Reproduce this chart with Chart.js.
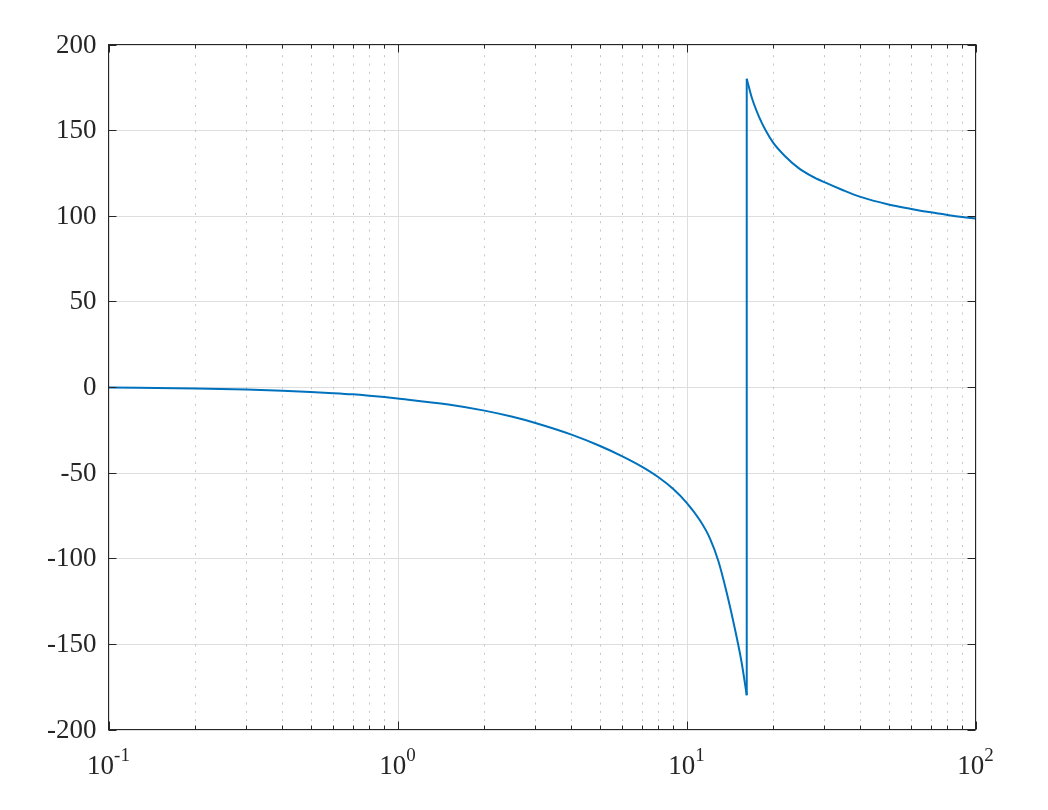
<!DOCTYPE html>
<html>
<head>
<meta charset="utf-8">
<script src="https://cdn.jsdelivr.net/npm/chart.js@4"></script>
<style>
  html, body { margin: 0; padding: 0; background: #fff; }
  canvas { display: block; }
</style>
</head>
<body>
<canvas id="phaseChart" width="1048" height="810"></canvas>
<script>
// --- data ---
// branch before the wrap (falls to -180)
const freqLow  = [0.1, 0.2, 0.3, 0.4, 0.5, 0.6, 0.7, 0.8, 0.9, 1, 1.5, 2, 2.5, 3, 4, 5, 6, 7, 8, 9, 10, 11.14, 12.06, 12.88, 13.77, 14.72, 15.52, 16.16];
const phaseLow = [-0.3, -0.9, -1.5, -2.2, -2.9, -3.6, -4.3, -5.1, -5.9, -6.7, -10.2, -13.8, -17.4, -21, -27.8, -34.3, -40.5, -46.5, -52.7, -59.6, -67.5, -78, -88.5, -101.5, -120, -141.6, -161, -180];
// branch after the wrap (starts at +180)
const freqHigh  = [16.16, 16.85, 17.78, 18.74, 20, 21.98, 24.44, 27, 30, 34.5, 40, 50, 60, 70, 80, 90, 100];
const phaseHigh = [180, 168.6, 158.2, 150.2, 142.4, 134.6, 127.8, 123.3, 119.6, 115.2, 111, 106.6, 104, 102, 100.5, 99.3, 98.4];
// the vertical wrap line
const freqJump  = [16.16, 16.16];
const phaseJump = [-180, 180];

const xMajor = [0.1, 1, 10, 100];
const xMajorLabels = [["10", "-1"], ["10", "0"], ["10", "1"], ["10", "2"]];
const yTicks = [-200, -150, -100, -50, 0, 50, 100, 150, 200];

const LINE_COLOR = "#0072BD";
const AXIS_COLOR = "#262626";
const FONT = '"Liberation Serif", "DejaVu Serif", serif';

const toPoints = (xs, ys) => xs.map((x, i) => ({ x: x, y: ys[i] }));

// minor ticks 2..9 in each decade
function minorTicks() {
    const out = [];
    for (let d = 0; d < xMajor.length - 1; d++) {
        for (let k = 2; k <= 9; k++) out.push(xMajor[d] * k);
    }
    return out;
}

// --- grid, box, ticks and labels drawn from the chart's scales ---
const matlabAxes = {
    id: "matlabAxes",
    beforeDatasetsDraw(chart) {
        const { ctx, chartArea: a, scales: { x, y } } = chart;
        ctx.save();
        ctx.lineWidth = 1;
        // horizontal grid
        ctx.strokeStyle = "#dedede";
        yTicks.forEach(v => {
            const py = Math.round(y.getPixelForValue(v)) + 0.5;
            ctx.beginPath(); ctx.moveTo(a.left, py); ctx.lineTo(a.right, py); ctx.stroke();
        });
        // major vertical grid
        xMajor.forEach(v => {
            const px = Math.round(x.getPixelForValue(v)) + 0.5;
            ctx.beginPath(); ctx.moveTo(px, a.top); ctx.lineTo(px, a.bottom); ctx.stroke();
        });
        // minor vertical grid (dotted)
        ctx.strokeStyle = "#c4c4c4";
        ctx.setLineDash([2, 6.3]);
        minorTicks().forEach(v => {
            const px = Math.round(x.getPixelForValue(v)) + 0.5;
            ctx.beginPath(); ctx.moveTo(px, a.bottom); ctx.lineTo(px, a.top); ctx.stroke();
        });
        ctx.restore();
    },
    afterDatasetsDraw(chart) {
        const { ctx, chartArea: a, scales: { x, y } } = chart;
        ctx.save();
        ctx.strokeStyle = AXIS_COLOR;
        ctx.lineWidth = 1;
        ctx.strokeRect(a.left, a.top, a.right - a.left, a.bottom - a.top);

        ctx.beginPath();
        // x ticks, inward on bottom and top
        xMajor.forEach(v => {
            const px = Math.round(x.getPixelForValue(v)) + 0.5;
            ctx.moveTo(px, a.bottom); ctx.lineTo(px, a.bottom - 8);
            ctx.moveTo(px, a.top); ctx.lineTo(px, a.top + 8);
        });
        minorTicks().forEach(v => {
            const px = Math.round(x.getPixelForValue(v)) + 0.5;
            ctx.moveTo(px, a.bottom); ctx.lineTo(px, a.bottom - 4);
            ctx.moveTo(px, a.top); ctx.lineTo(px, a.top + 4);
        });
        // y ticks, inward on left and right
        yTicks.forEach(v => {
            const py = Math.round(y.getPixelForValue(v)) + 0.5;
            ctx.moveTo(a.left, py); ctx.lineTo(a.left + 8, py);
            ctx.moveTo(a.right, py); ctx.lineTo(a.right - 8, py);
        });
        ctx.stroke();

        // y labels
        ctx.fillStyle = AXIS_COLOR;
        ctx.font = "27px " + FONT;
        ctx.textAlign = "right";
        ctx.textBaseline = "middle";
        yTicks.forEach(v => {
            ctx.fillText(String(v), a.left - 12, y.getPixelForValue(v) + 1);
        });

        // x labels: 10 with superscript exponent
        ctx.textAlign = "left";
        ctx.textBaseline = "alphabetic";
        xMajor.forEach((v, i) => {
            const [base, exp] = xMajorLabels[i];
            ctx.font = "27px " + FONT;
            const wb = ctx.measureText(base).width;
            ctx.font = "19px " + FONT;
            const we = ctx.measureText(exp).width;
            const start = x.getPixelForValue(v) - (wb + we) / 2;
            ctx.font = "27px " + FONT;
            ctx.fillText(base, start, 774);
            ctx.font = "19px " + FONT;
            ctx.fillText(exp, start + wb, 761);
        });
        ctx.restore();
    }
};

const lineStyle = {
    borderColor: LINE_COLOR,
    borderWidth: 2,
    pointRadius: 0,
    pointHoverRadius: 0,
    showLine: true,
    fill: false
};

new Chart(document.getElementById("phaseChart"), {
    type: "scatter",
    data: {
        datasets: [
            Object.assign({ data: toPoints(freqLow, phaseLow), cubicInterpolationMode: "monotone" }, lineStyle),
            Object.assign({ data: toPoints(freqJump, phaseJump), tension: 0 }, lineStyle),
            Object.assign({ data: toPoints(freqHigh, phaseHigh), cubicInterpolationMode: "monotone" }, lineStyle)
        ]
    },
    options: {
        responsive: false,
        animation: false,
        layout: { padding: { left: 0, right: 72.5, top: 44.5, bottom: 0 } },
        plugins: { legend: { display: false }, tooltip: { enabled: false } },
        scales: {
            x: {
                type: "logarithmic",
                min: 0.1,
                max: 100,
                grid: { display: false },
                border: { display: false },
                ticks: { display: false },
                afterFit: s => { s.height = 80.5; }
            },
            y: {
                type: "linear",
                min: -200,
                max: 200,
                grid: { display: false },
                border: { display: false },
                ticks: { display: false },
                afterFit: s => { s.width = 108.5; }
            }
        }
    },
    plugins: [matlabAxes]
});
</script>
</body>
</html>
